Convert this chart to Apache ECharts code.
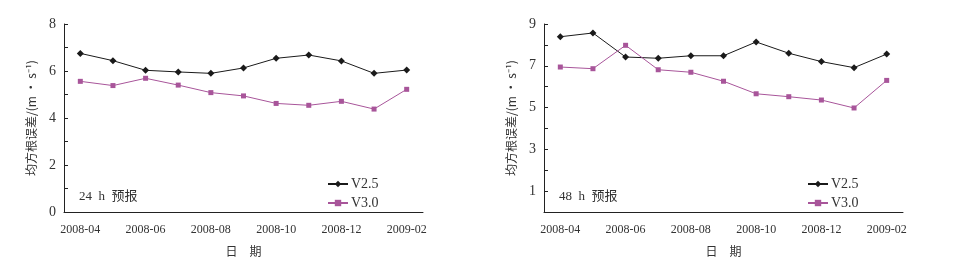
<!DOCTYPE html>
<html>
<head>
<meta charset="utf-8">
<script src="https://cdn.jsdelivr.net/npm/echarts@6/dist/echarts.min.js"></script>
<style>
  html, body { margin: 0; padding: 0; background: #fff; }
  #main { width: 955px; height: 264px; }
</style>
</head>
<body>
<div id="main"></div>
<script>
var months = ['2008-04', '2008-05', '2008-06', '2008-07', '2008-08', '2008-09',
    '2008-10', '2008-11', '2008-12', '2009-01', '2009-02'];
// 24 h
var v25_24 = [6.75, 6.44, 6.03, 5.96, 5.90, 6.13, 6.54, 6.68, 6.43, 5.90, 6.04];
var v30_24 = [5.56, 5.38, 5.69, 5.40, 5.08, 4.94, 4.62, 4.54, 4.71, 4.38, 5.22];
// 48 h
var v25_48 = [8.39, 8.57, 7.42, 7.36, 7.48, 7.48, 8.14, 7.60, 7.20, 6.91, 7.56];
var v30_48 = [6.94, 6.86, 7.98, 6.81, 6.69, 6.26, 5.66, 5.52, 5.36, 4.98, 6.30];

var serif = '"Liberation Serif", "Noto Sans CJK SC", serif';
var cjk = '"Noto Sans CJK SC", sans-serif';
var black = '#1a1a1a';
var purple = '#a8559a';
var axisColor = '#222';

var myChart = echarts.init(document.getElementById('main'));

function xAxis(idx) {
    return {
        type: 'category',
        gridIndex: idx,
        data: months,
        boundaryGap: true,
        axisLine: {lineStyle: {color: axisColor, width: 1}},
        axisTick: {inside: true, length: 4, interval: 0, lineStyle: {color: axisColor}},
        axisLabel: {interval: 1, color: '#333', fontFamily: serif, fontSize: 12, margin: 12},
        name: '日　期',
        nameLocation: 'middle',
        nameGap: 33,
        nameTextStyle: {color: '#333', fontFamily: cjk, fontSize: 12},
        splitLine: {show: false}
    };
}

function yAxis(idx, max, odd) {
    return {
        type: 'value',
        gridIndex: idx,
        min: 0,
        max: max,
        interval: 1,
        axisLine: {show: true, lineStyle: {color: axisColor, width: 1}},
        axisTick: {show: true, inside: true, length: 4, lineStyle: {color: axisColor}},
        axisLabel: {
            color: '#333', fontFamily: serif, fontSize: 14, margin: 8,
            formatter: function (v) {
                return (v % 2 === (odd ? 1 : 0)) ? String(v) : '';
            }
        },
        name: '均方根误差/(m · s⁻¹)',
        nameLocation: 'middle',
        nameRotate: 90,
        nameGap: 27,
        nameTextStyle: {color: '#333', fontFamily: cjk, fontSize: 12},
        splitLine: {show: false}
    };
}

function lineSeries(name, idx, data, color, symbol, size) {
    return {
        name: name,
        type: 'line',
        xAxisIndex: idx,
        yAxisIndex: idx,
        data: data,
        symbol: symbol,
        symbolSize: size,
        lineStyle: {color: color, width: 1},
        itemStyle: {color: color},
        animation: false
    };
}

function legend(left) {
    return {
        data: ['V2.5', 'V3.0'], orient: 'vertical', left: left, top: 172,
        itemWidth: 20, itemHeight: 8, itemGap: 5,
        textStyle: {fontFamily: serif, fontSize: 14, color: '#333', padding: [0, 0, 0, -2]}
    };
}

myChart.setOption({
    animation: false,
    grid: [
        {left: 64, right: 532, top: 24, bottom: 52},
        {left: 544, right: 52, top: 24, bottom: 52}
    ],
    xAxis: [xAxis(0), xAxis(1)],
    yAxis: [yAxis(0, 8, false), yAxis(1, 9, true)],
    legend: [legend(322), legend(802)],
    graphic: [
        {type: 'text', left: 79, top: 190, style: {text: '24  h  预报', font: '13px ' + serif, fill: '#333'}},
        {type: 'text', left: 559, top: 190, style: {text: '48  h  预报', font: '13px ' + serif, fill: '#333'}}
    ],
    series: [
        lineSeries('V2.5', 0, v25_24, black, 'diamond', 7),
        lineSeries('V3.0', 0, v30_24, purple, 'rect', 5),
        lineSeries('V2.5', 1, v25_48, black, 'diamond', 7),
        lineSeries('V3.0', 1, v30_48, purple, 'rect', 5)
    ]
});
</script>
</body>
</html>
